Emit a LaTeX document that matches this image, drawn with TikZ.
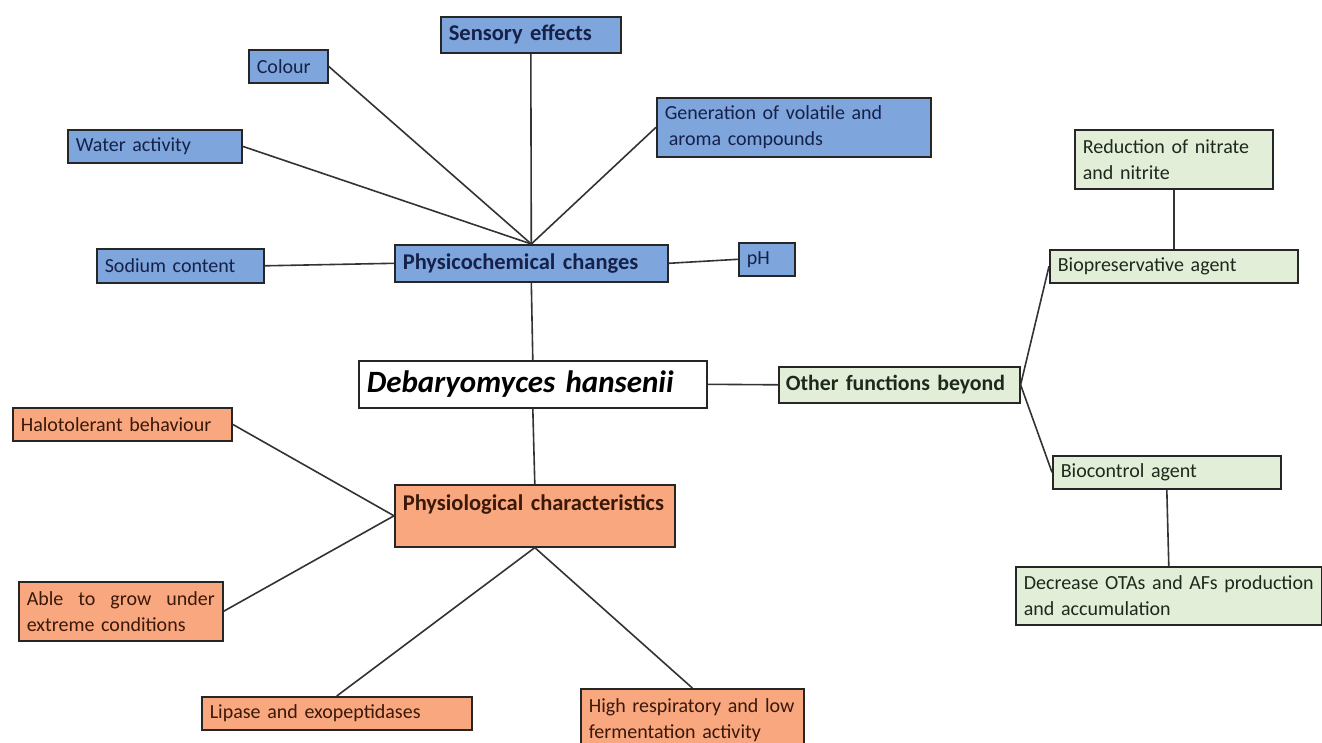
\documentclass[tikz,border=0pt]{standalone}
\usepackage{fontspec}
\setmainfont{Carlito}

\definecolor{physblue}{HTML}{7EA5DC}
\definecolor{physorange}{HTML}{F8A77E}
\definecolor{othgreen}{HTML}{E2EED8}
\definecolor{txtblue}{HTML}{16214A}
\definecolor{txtorange}{HTML}{3A180A}
\definecolor{txtgreen}{HTML}{1C2A1C}

\tikzset{
  blk/.style={draw=black!85, line width=1.6pt, anchor=north west, align=left,
    inner xsep=8pt, inner ysep=0pt, font=\fontsize{20}{26}\selectfont},
  head/.style={font=\fontsize{22.5}{27}\selectfont\bfseries},
  bluebox/.style={blk, fill=physblue, text=txtblue},
  orangebox/.style={blk, fill=physorange, text=txtorange},
  greenbox/.style={blk, fill=othgreen, text=txtgreen},
  link/.style={draw=black!80, line width=1.6pt}
}

\begin{document}
\begin{tikzpicture}[x=1pt,y=-1pt]
  \useasboundingbox[fill=white] (0,0) rectangle (1322,742);

  % Physicochemical changes and its branches
  \node[bluebox, head, text width=257pt, minimum height=37pt] (phys) at (394,244) {Physicochemical changes};
  \node[bluebox, head, text width=164pt, minimum height=36pt] (sens) at (440,16) {Sensory effects};
  \node[bluebox, text width=63pt, minimum height=33pt] (col) at (248,49) {Colour};
  \node[bluebox, text width=158pt, minimum height=33pt] (water) at (67,129) {Water activity};
  \node[bluebox, text width=258pt, minimum height=59pt] (gen) at (656,97) {Generation of volatile and\\\hspace{4pt}aroma compounds};
  \node[bluebox, text width=151pt, minimum height=34pt] (sod) at (96,248) {Sodium content};
  \node[bluebox, text width=40pt, minimum height=33pt] (ph) at (738,242) {pH};

  \draw[link] (sens.south) -- (phys.north);
  \draw[link] (col.east) -- (phys.north);
  \draw[link] (water.east) -- (phys.north);
  \draw[link] (gen.west) -- (phys.north);
  \draw[link] (sod.east) -- (phys.west);
  \draw[link] (phys.east) -- (ph.west);

  % Central species
  \node[blk, fill=white, text=black, font=\fontsize{31}{36}\selectfont\bfseries\itshape, text width=332pt, minimum height=47pt] (deb) at (358,360) {Debaryomyces hansenii};
  \draw[link] (phys.south) -- (deb.north);

  % Other functions beyond
  \node[greenbox, font=\fontsize{21.8}{27}\selectfont\bfseries, text width=227pt, inner xsep=7pt, minimum height=36pt] (oth) at (778,366) {Other functions beyond};
  \node[greenbox, text width=182pt, minimum height=59pt] (red) at (1074,129) {Reduction of nitrate\\and nitrite};
  \node[greenbox, text width=232pt, minimum height=33pt] (biop) at (1049,249) {Biopreservative agent};
  \node[greenbox, text width=212pt, minimum height=33pt] (bioc) at (1052,455) {Biocontrol agent};
  \node[greenbox, text width=290pt, minimum height=58pt] (dec) at (1015,566) {Decrease OTAs and AFs production\\and accumulation};

  \draw[link] (deb.east) -- (oth.west);
  \draw[link] (oth.east) -- (biop.west);
  \draw[link] (oth.east) -- (bioc.west);
  \draw[link] (red.south) -- (biop.north);
  \draw[link] (bioc.south) -- (dec.north);

  % Physiological characteristics
  \node[orangebox, head, text width=264pt, minimum height=62pt] (physio) at (394,484) {Physiological characteristics\\\mbox{}};
  \node[orangebox, text width=203pt, minimum height=33pt] (halo) at (12,407) {Halotolerant behaviour};
  \node[orangebox, text width=188pt, minimum height=59pt] (able) at (18,581) {Able\hfill to\hfill grow\hfill under\\extreme conditions};
  \node[orangebox, text width=254pt, minimum height=33pt] (lip) at (201,696) {Lipase and exopeptidases};
  \node[orangebox, text width=207pt, minimum height=62pt] (high) at (580,688) {High respiratory and low\\fermentation activity};

  \draw[link] (deb.south) -- (physio.north);
  \draw[link] (halo.east) -- (physio.west);
  \draw[link] (able.east) -- (physio.west);
  \draw[link] (physio.south) -- (lip.north);
  \draw[link] (physio.south) -- (high.north);
\end{tikzpicture}
\end{document}
